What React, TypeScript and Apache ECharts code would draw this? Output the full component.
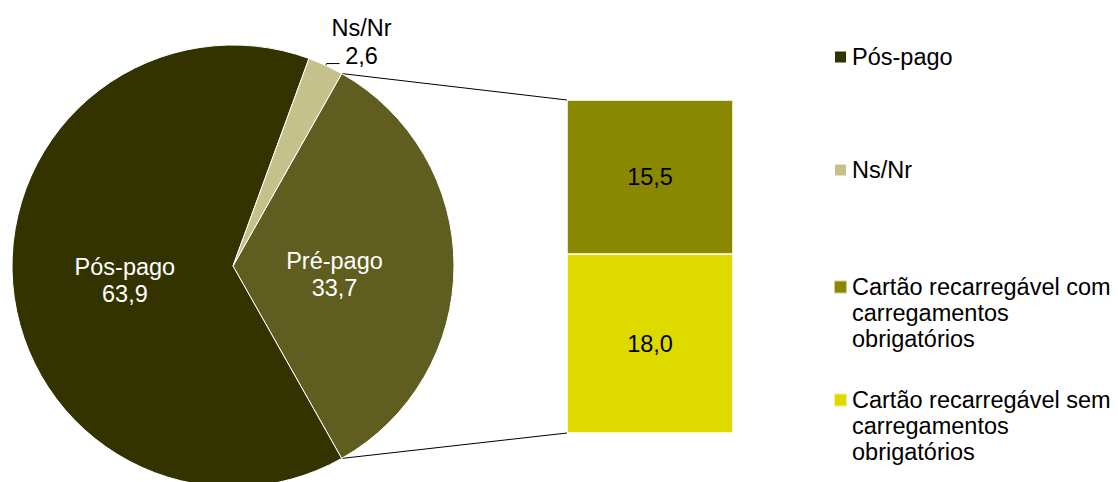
import React, { useEffect, useRef } from "react";
import * as echarts from "echarts";

// ---- data ----
const pieNames = ["Pré-pago", "Pós-pago", "Ns/Nr"];
const pieValues = [33.7, 63.9, 2.6];
const pieColors = ["#5F5D1F", "#333300", "#C4C28A"];

const barNames = [
  "Cartão recarregável sem carregamentos obrigatórios",
  "Cartão recarregável com carregamentos obrigatórios",
];
const barLegendLabels = [
  "Cartão recarregável sem\ncarregamentos\nobrigatórios",
  "Cartão recarregável com\ncarregamentos\nobrigatórios",
];
const barValues = [18.0, 15.5];
const barColors = ["#DEDA00", "#8A8800"];

const legendOrder = [
  "Pós-pago",
  "Ns/Nr",
  "Cartão recarregável com carregamentos obrigatórios",
  "Cartão recarregável sem carregamentos obrigatórios",
];

const FONT = "'Liberation Sans', Arial, sans-serif";
const FS = 23.5;

const fmt = (v: number) => v.toFixed(1).replace(".", ",");

export default function App() {
  const ref = useRef<HTMLDivElement>(null);
  useEffect(() => {
    document.body.style.margin = "0";
    if (!ref.current) return;
    const chart = echarts.init(ref.current, undefined, { renderer: "svg" });

    const cx = 233;
    const cy = 266;
    const r = 221;
    const total = pieValues.reduce((a, b) => a + b, 0);
    const startAngle = ((pieValues[0] / total) * 360) / 2;
    const rad = (startAngle * Math.PI) / 180;
    const pTop = [cx + r * Math.cos(rad), cy - r * Math.sin(rad)];
    const pBot = [cx + r * Math.cos(rad), cy + r * Math.sin(rad)];

    const gLeft = 567;
    const gTop = 100;
    const gW = 166;
    const gH = 333;
    const barTotal = barValues.reduce((a, b) => a + b, 0);

    const legendItemTop = [44, 157, 222, 335];

    const legends = legendOrder.map((name, i) => ({
      data: [name],
      orient: "vertical",
      left: 833,
      top: legendItemTop[i],
      padding: 0,
      itemWidth: 13,
      itemHeight: 13,
      itemGap: 0,
      icon: "rect",
      selectedMode: false,
      formatter: (n: string) => {
        const bi = barNames.indexOf(n);
        // two leading empty lines keep the marker level with the first line
        return bi >= 0 ? "\n\n" + barLegendLabels[bi] : n;
      },
      textStyle: {
        fontFamily: FONT,
        fontSize: FS,
        color: "#000",
        lineHeight: 26,
      },
    }));

    chart.setOption({
      animation: false,
      backgroundColor: "#fff",
      legend: legends,
      grid: { left: gLeft, top: gTop, width: gW, height: gH },
      xAxis: { type: "category", data: ["Pré-pago"], show: false },
      yAxis: { type: "value", min: 0, max: barTotal, show: false },
      graphic: [
        {
          type: "line",
          shape: { x1: pTop[0], y1: pTop[1], x2: gLeft, y2: gTop },
          style: { stroke: "#000", lineWidth: 1 },
        },
        {
          type: "line",
          shape: { x1: pBot[0], y1: pBot[1], x2: gLeft, y2: gTop + gH },
          style: { stroke: "#000", lineWidth: 1 },
        },
      ],
      series: [
        {
          type: "pie",
          center: [cx, cy],
          radius: r,
          startAngle,
          clockwise: true,
          avoidLabelOverlap: false,
          itemStyle: { borderColor: "#fff", borderWidth: 1 },
          emphasis: { disabled: true },
          labelLayout: (p: any) => {
            if (p.dataIndex === 1) return { dx: 5, dy: 5 };
            if (p.dataIndex === 0) return { dx: -12, dy: 8 };
            return {};
          },
          data: pieNames.map((n, i) => {
            const base: any = {
              name: n,
              value: pieValues[i],
              itemStyle: { color: pieColors[i] },
            };
            if (n === "Ns/Nr") {
              base.label = {
                show: true,
                position: "outside",
                formatter: (p: any) => `{a|${p.name}}\n{a|${fmt(p.value)}}`,
                color: "#000",
                padding: [0, 0, 44, 0],
                distanceToLabelLine: 6,
                rich: {
                  a: {
                    width: 32,
                    align: "center",
                    fontFamily: FONT,
                    fontSize: FS,
                    lineHeight: 28,
                    color: "#000",
                  },
                },
              };
              base.labelLine = {
                show: true,
                length: 2,
                length2: 13,
                lineStyle: { color: "#000", width: 1 },
              };
            } else {
              base.label = {
                show: true,
                position: "inside",
                formatter: (p: any) => `${p.name}\n${fmt(p.value)}`,
                color: "#fff",
                fontFamily: FONT,
                fontSize: FS,
                lineHeight: 27,
              };
            }
            return base;
          }),
        },
        ...barNames.map((n, i) => ({
          type: "bar",
          name: n,
          stack: "pre",
          barWidth: "100%",
          data: [barValues[i]],
          itemStyle: {
            color: barColors[i],
            borderColor: "rgba(255,255,255,0.6)",
            borderWidth: 1,
          },
          emphasis: { disabled: true },
          label: {
            show: true,
            position: "inside",
            formatter: (p: any) => fmt(p.value),
            color: "#000",
            fontFamily: FONT,
            fontSize: FS,
          },
        })),
      ],
    });
    return () => chart.dispose();
  }, []);
  return <div ref={ref} style={{ width: 1118, height: 482 }} />;
}
